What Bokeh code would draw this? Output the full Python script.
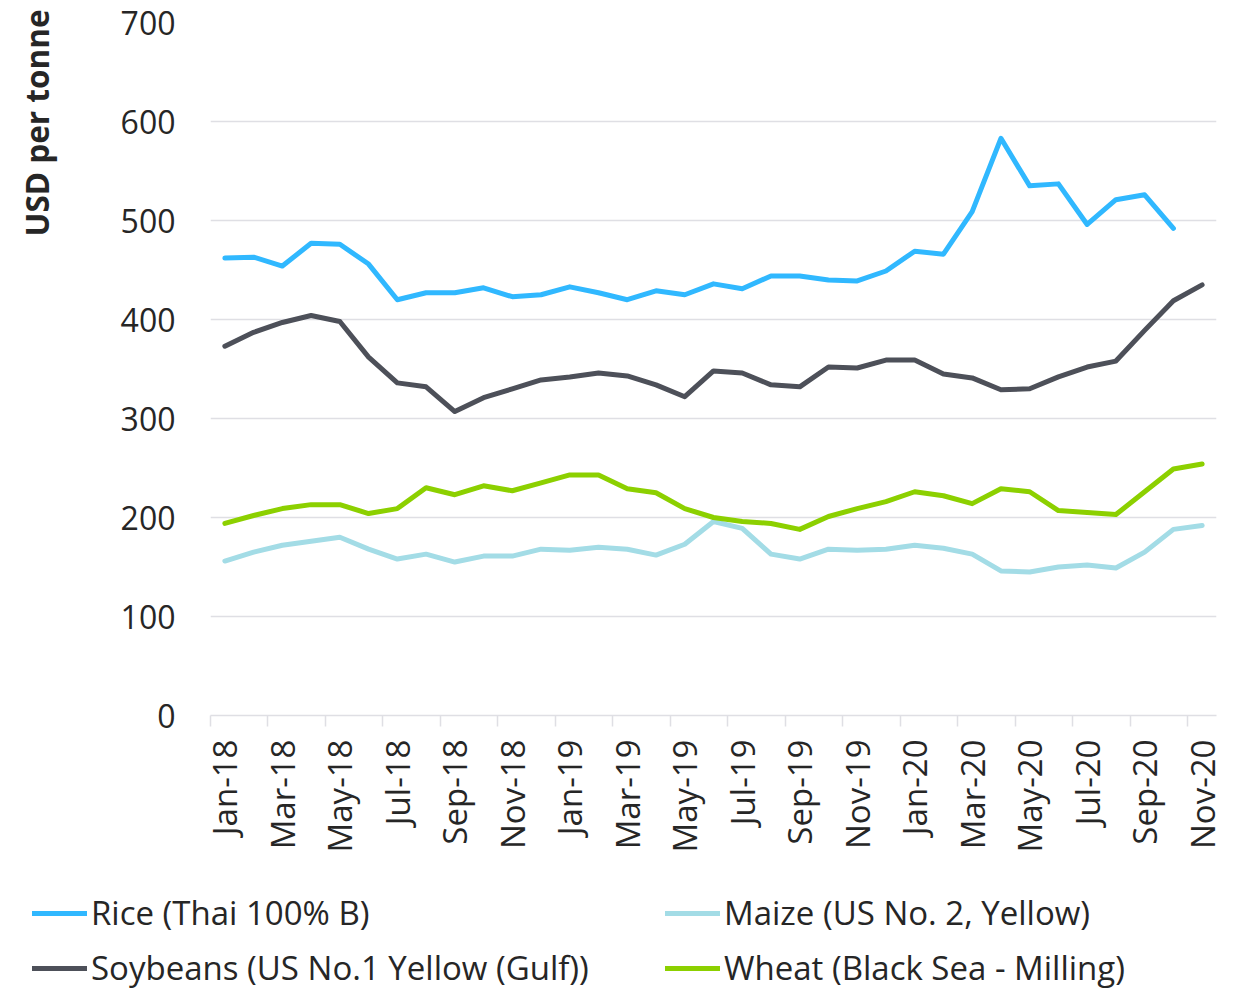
import math
from bokeh.plotting import figure
from bokeh.layouts import column, row
from bokeh.models import Range1d, FixedTicker, Legend, LegendItem, Label
from bokeh.embed import file_html
from bokeh.resources import INLINE

months = ["Jan-18", "Feb-18", "Mar-18", "Apr-18", "May-18", "Jun-18", "Jul-18", "Aug-18",
          "Sep-18", "Oct-18", "Nov-18", "Dec-18", "Jan-19", "Feb-19", "Mar-19", "Apr-19",
          "May-19", "Jun-19", "Jul-19", "Aug-19", "Sep-19", "Oct-19", "Nov-19", "Dec-19",
          "Jan-20", "Feb-20", "Mar-20", "Apr-20", "May-20", "Jun-20", "Jul-20", "Aug-20",
          "Sep-20", "Oct-20", "Nov-20"]

rice = [462, 463, 454, 477, 476, 456, 420, 427, 427, 432, 423, 425, 433, 427, 420, 429,
        425, 436, 431, 444, 444, 440, 439, 449, 469, 466, 509, 583, 535, 537, 496, 521,
        526, 492]
maize = [156, 165, 172, 176, 180, 168, 158, 163, 155, 161, 161, 168, 167, 170, 168, 162,
         173, 196, 189, 163, 158, 168, 167, 168, 172, 169, 163, 146, 145, 150, 152, 149,
         165, 188, 192]
soybeans = [373, 387, 397, 404, 398, 362, 336, 332, 307, 321, 330, 339, 342, 346, 343, 334,
            322, 348, 346, 334, 332, 352, 351, 359, 359, 345, 341, 329, 330, 342, 352, 358,
            389, 419, 435]
wheat = [194, 202, 209, 213, 213, 204, 209, 230, 223, 232, 227, 235, 243, 243, 229, 225,
         209, 200, 196, 194, 188, 201, 209, 216, 226, 222, 214, 229, 226, 207, 205, 203,
         226, 249, 254]

series_names = ["Rice (Thai 100% B)", "Maize (US No. 2, Yellow)",
                "Soybeans (US No.1 Yellow (Gulf))", "Wheat (Black Sea - Milling)"]
colors = ["#30B8FF", "#A3DCE6", "#4D5059", "#8CD000"]

y_ticks = [0, 100, 200, 300, 400, 500, 600, 700]
y_title = "USD per tonne"

FONT = "Open Sans"
TXT = "#262626"
GRID = "#DFDFE4"
FS = "33px"
W = 1230
TW = 60      # width of the strip holding the y title
H_MAIN = 860
H_LEG = 130


def no_align(fig):
    if "frame_align" in fig.properties():
        fig.frame_align = False


def blank(fig):
    fig.outline_line_color = None
    fig.xgrid.visible = False
    fig.ygrid.visible = False
    no_align(fig)


# ---- main chart ----
p = figure(width=W - TW, height=H_MAIN, output_backend="svg", toolbar_location=None,
           x_range=Range1d(-0.5, len(months) - 0.5), y_range=Range1d(0, 700),
           min_border_left=210 - TW, min_border_right=14, min_border_top=22,
           min_border_bottom=H_MAIN - 715)
p.outline_line_color = None
no_align(p)

label_idx = list(range(0, len(months), 2))
p.xaxis.ticker = FixedTicker(ticks=label_idx, minor_ticks=[i - 0.5 for i in label_idx])
p.xaxis.major_label_overrides = {i: months[i] for i in label_idx}
p.xaxis.major_label_orientation = math.pi / 2
p.xaxis.major_tick_out = 0
p.xaxis.major_tick_in = 0
p.xaxis.minor_tick_out = 11
p.xaxis.minor_tick_in = 0
p.xaxis.minor_tick_line_color = GRID
p.xaxis.minor_tick_line_width = 1.5
p.xaxis.axis_line_color = GRID
p.xaxis.axis_line_width = 1.5
p.xaxis.major_label_standoff = 13
p.xaxis.major_label_text_font = FONT
p.xaxis.major_label_text_font_size = FS
p.xaxis.major_label_text_color = TXT
p.xgrid.visible = False

p.yaxis.ticker = FixedTicker(ticks=y_ticks)
p.yaxis.axis_line_color = None
p.yaxis.major_tick_line_color = None
p.yaxis.minor_tick_line_color = None
p.yaxis.major_tick_out = 0
p.yaxis.major_label_standoff = 35
p.yaxis.major_label_text_font = FONT
p.yaxis.major_label_text_font_size = "32px"
p.yaxis.major_label_text_color = TXT
p.ygrid.grid_line_color = GRID
p.ygrid.grid_line_width = 1.5

data = [rice, maize, soybeans, wheat]
for vals, c in zip(data, colors):
    p.line(list(range(len(vals))), vals, line_color=c, line_width=5,
           line_cap="round", line_join="round")

# ---- y title strip (pixel-like ranges) ----
tf = figure(width=TW, height=H_MAIN, output_backend="svg", toolbar_location=None,
            x_range=Range1d(0, TW), y_range=Range1d(0, H_MAIN),
            x_axis_type=None, y_axis_type=None,
            min_border_left=0, min_border_right=0, min_border_top=0, min_border_bottom=0)
blank(tf)
tf.add_layout(Label(x=36, y=H_MAIN - 9, text=y_title, angle=math.pi / 2,
                    text_align="right", text_baseline="middle", text_font=FONT,
                    text_font_style="bold", text_font_size="31.5px", text_color=TXT))

# ---- legend strip (series lines lie outside its visible ranges) ----
lg = figure(width=W, height=H_LEG, output_backend="svg", toolbar_location=None,
            x_range=Range1d(-0.5, len(months) - 0.5), y_range=Range1d(1000, 1100),
            x_axis_type=None, y_axis_type=None,
            min_border_left=0, min_border_right=0, min_border_top=0, min_border_bottom=0)
blank(lg)
leg_r = []
for vals, c in zip(data, colors):
    leg_r.append(lg.line(list(range(len(vals))), vals, line_color=c, line_width=5,
                         line_cap="round"))

leg = Legend(items=[LegendItem(label=n, renderers=[r]) for n, r in zip(series_names, leg_r)],
             location=(32, 0), orientation="horizontal", ncols=2,
             glyph_width=55, glyph_height=44, label_standoff=4, spacing=10, label_width=564,
             padding=0, margin=0, border_line_color=None, background_fill_alpha=0,
             label_text_font=FONT, label_text_font_size=FS, label_text_color=TXT)
lg.add_layout(leg, "center")

layout = column(row(tf, p, spacing=0), lg, spacing=0)
open("out.html", "w").write(file_html(layout, INLINE))
